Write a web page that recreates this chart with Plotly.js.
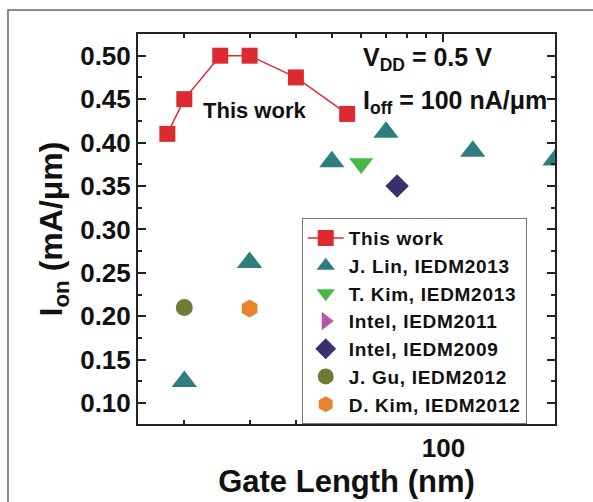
<!DOCTYPE html>
<html>
<head>
<meta charset="utf-8">
<script src="https://cdn.plot.ly/plotly-3.0.1.min.js"></script>
<style>
html,body{margin:0;padding:0;background:#fff;}
#chart{width:593px;height:502px;}
.legendtext{letter-spacing:0.7px;}
</style>
</head>
<body>
<div id="chart"></div>
<script>
// ---- data (gate length in nm, Ion in mA/um) ----
var thisWorkX = [18, 20, 25, 30, 40, 55];
var thisWorkY = [0.410, 0.450, 0.500, 0.500, 0.475, 0.433];
var linX = [20, 30, 50, 70, 120, 200];
var linY = [0.125, 0.262, 0.378, 0.412, 0.390, 0.380];
var tkimX = [60];
var tkimY = [0.376];
var intel2011X = [null];   // legend entry only: no point visible in the chart
var intel2011Y = [null];
var intel2009X = [75];
var intel2009Y = [0.350];
var guX = [20];
var guY = [0.210];
var dkimX = [30];
var dkimY = [0.209];
var seriesNames = ["This work", "J. Lin, IEDM2013", "T. Kim, IEDM2013", "Intel, IEDM2011",
                   "Intel, IEDM2009", "J. Gu, IEDM2012", "D. Kim, IEDM2012"];
var yTickVals = [0.10, 0.15, 0.20, 0.25, 0.30, 0.35, 0.40, 0.45, 0.50];
var yTickText = ["0.10", "0.15", "0.20", "0.25", "0.30", "0.35", "0.40", "0.45", "0.50"];
var xTickVals = [100];
var xTickText = ["100"];
var xMinorVals = [20, 30, 40, 50, 60, 70, 80, 90];

var FONT = "Liberation Sans, Arial, Helvetica, sans-serif";

function pts(name, x, y, sym, color, size, mode) {
  return {
    type: "scatter", mode: mode || "markers", name: name, x: x, y: y,
    marker: {symbol: sym, color: color, size: size, line: {width: 0}},
    line: {color: color, width: 1.5}
  };
}

var traces = [
  pts(seriesNames[0], thisWorkX, thisWorkY, "square", "#DB2B30", 16, "lines+markers"),
  pts(seriesNames[1], linX, linY, "triangle-up", "#2E7E7E", 22),
  pts(seriesNames[2], tkimX, tkimY, "triangle-down", "#47B847", 21),
  pts(seriesNames[3], intel2011X, intel2011Y, "triangle-right", "#B5579F", 21),
  pts(seriesNames[4], intel2009X, intel2009Y, "diamond", "#3B2F6C", 18),
  pts(seriesNames[5], guX, guY, "circle", "#6E7C35", 17),
  pts(seriesNames[6], dkimX, dkimY, "hexagon", "#E8822E", 18)
];

var axisCommon = {
  showline: true, linecolor: "#222", linewidth: 2, mirror: "allticks",
  ticks: "inside", ticklen: 8, tickwidth: 2, tickcolor: "#222",
  showgrid: false, zeroline: false,
  tickfont: {family: FONT, size: 26, color: "#111", weight: "bold"}
};

var layout = {
  width: 593, height: 502,
  margin: {l: 138, r: 38, t: 34, b: 78},
  paper_bgcolor: "#fff", plot_bgcolor: "#fff",
  showlegend: true,
  legend: {
    x: 0.3926, y: 0.528, xanchor: "left", yanchor: "top",
    bgcolor: "#fff", bordercolor: "#777", borderwidth: 1,
    font: {family: FONT, size: 19, color: "#111", weight: "bold"},
    itemwidth: 36, tracegroupgap: 0
  },
  xaxis: Object.assign({}, axisCommon, {
    type: "log", range: [Math.log10(15), Math.log10(200)],
    tickmode: "array", tickvals: xTickVals, ticktext: xTickText,
    minor: {tickvals: xMinorVals, ticks: "inside", ticklen: 4, tickwidth: 2, tickcolor: "#222"},
    title: {text: "Gate Length (nm)", standoff: 8,
            font: {family: FONT, size: 31, color: "#111", weight: "bold"}}
  }),
  yaxis: Object.assign({}, axisCommon, {
    range: [0.076, 0.525],
    tickmode: "array", tickvals: yTickVals, ticktext: yTickText,
    minor: {dtick: 0.025, ticks: "inside", ticklen: 4, tickwidth: 2, tickcolor: "#222"},
    title: {text: "I<sub>on</sub> (mA/μm)", standoff: 8,
            font: {family: FONT, size: 32, color: "#111", weight: "bold"}}
  }),
  annotations: [
    {text: "This work", xref: "paper", yref: "paper", x: 0.28, y: 0.805,
     xanchor: "center", yanchor: "middle", showarrow: false,
     font: {family: FONT, size: 22, color: "#111", weight: "bold"}},
    {text: "V<sub>DD</sub> = 0.5 V", xref: "paper", yref: "paper", x: 0.535, y: 0.935,
     xanchor: "left", yanchor: "middle", showarrow: false,
     font: {family: FONT, size: 25, color: "#111", weight: "bold"}},
    {text: "I<sub>off</sub> = 100 nA/μm", xref: "paper", yref: "paper", x: 0.535, y: 0.826,
     xanchor: "left", yanchor: "middle", showarrow: false,
     font: {family: FONT, size: 25, color: "#111", weight: "bold"}}
  ],
  shapes: [
    {type: "rect", xref: "paper", yref: "paper", x0: -0.3118, x1: 1.3, y0: -0.4, y1: 1.0615,
     line: {color: "#666", width: 1.5}, fillcolor: "rgba(0,0,0,0)", layer: "below"}
  ]
};

Plotly.newPlot("chart", traces, layout, {displayModeBar: false, staticPlot: true});
</script>
</body>
</html>
